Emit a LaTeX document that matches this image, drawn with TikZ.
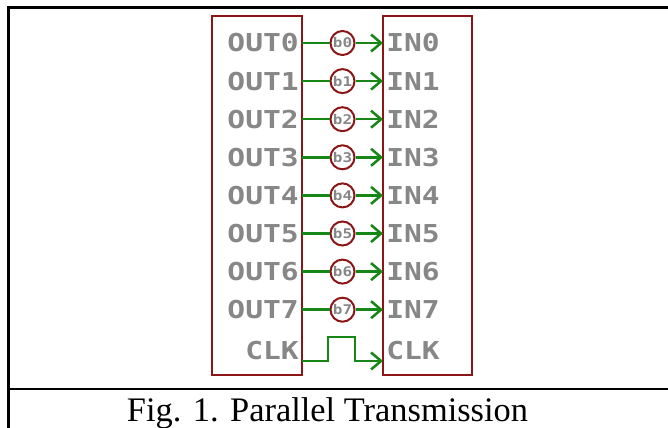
\documentclass[tikz,border=0pt]{standalone}
\usepackage{fontspec}
\setmainfont{Liberation Serif}
\newfontfamily\eaglefont{DejaVu Sans Mono}[FakeStretch=1.2]
\usetikzlibrary{arrows.meta}

\definecolor{BoxRed}{RGB}{140,22,22}
\definecolor{WireGreen}{RGB}{22,135,22}
\definecolor{PinGray}{RGB}{135,135,135}

\begin{document}
\begin{tikzpicture}[x=0.75pt,y=-0.75pt,
  pin/.style={text=PinGray,font=\eaglefont\bfseries\fontsize{18.5}{20}\selectfont,inner sep=0pt},
  bit/.style={circle,draw=BoxRed,line width=1.5pt,fill=white,minimum size=18pt,inner sep=0pt,
    text=PinGray,font=\eaglefont\bfseries\fontsize{10}{11}\selectfont},
  wire/.style={WireGreen,line width=1.9pt},
  tip/.style={-{Straight Barb[length=7.5pt,width=12.75pt]}},
  box/.style={draw=BoxRed,line width=2.2pt}]
  \useasboundingbox (0,0) rectangle (668,428);

  % frame of the figure
  \draw[line width=2pt] (8.5,428) -- (8.5,7.5) -- (668,7.5);
  \draw[line width=2pt] (8.5,389) -- (668,389);

  \draw[box] (212,16) rectangle (302,375);
  \draw[box] (383,16) rectangle (472,375);

  \foreach \i in {0,...,7}{%
    \pgfmathsetmacro\ry{43+38.1*\i}
    \node[pin,anchor=base east] (out\i) at (299,\ry+9) {OUT\i};
    \node[pin,anchor=base west] (in\i) at (386,\ry+9) {IN\i};
    \coordinate (src\i) at (302,\ry);
    \coordinate (dst\i) at (383,\ry);
    \node[bit] (b\i) at (342.5,\ry) {b\i};
    \draw[wire] (src\i) -- (b\i);
    \draw[wire,tip] (b\i) -- (dst\i);
  }

  \node[pin,anchor=base east] (clkout) at (299,359) {CLK};
  \node[pin,anchor=base west] (clkin) at (386,359) {CLK};
  \coordinate (clksrc) at (302,361);
  \coordinate (clkdst) at (383,361);
  \draw[wire,tip] (clksrc) -- (328,361) |- (355,337) -- (355,361) -- (clkdst);

  \node[font=\fontsize{25.8}{28}\selectfont,anchor=base] (caption) at (327.5,421) {Fig. 1. Parallel Transmission};
\end{tikzpicture}
\end{document}
